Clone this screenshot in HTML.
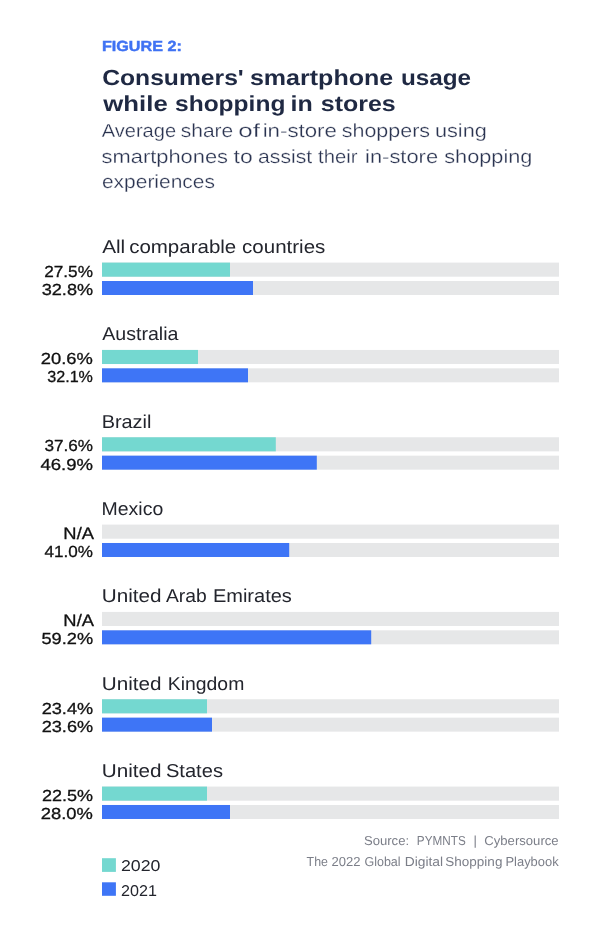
<!DOCTYPE html>
<html lang="en">
<head>
<meta charset="utf-8">
<title>Figure 2: Consumers' smartphone usage while shopping in stores</title>
<style>
html,body{margin:0;padding:0;background:#fff;}
body{width:615px;height:932px;position:relative;overflow:hidden;font-family:"Liberation Sans",sans-serif;text-rendering:geometricPrecision;}
header,main,footer,section,h1,h2,p,ul,li{display:block;position:static;margin:0;padding:0;font:inherit;list-style:none;height:0;}
.bars{position:absolute;left:0;top:0;display:block;}
.t{position:absolute;left:0;display:block;white-space:nowrap;line-height:1;margin:0;padding:0;transform-origin:0 0;}
#fig{top:40px;font-size:14.7px;font-weight:700;color:#3f72f3;transform:translateX(101.94px) scaleX(1.0995);-webkit-text-stroke:.45px #3f72f3;}
#t1a{top:67px;font-size:21.8px;font-weight:700;color:#1f2943;transform:translateX(102.22px) scaleX(1.1312);}
#t1b{top:67px;font-size:21.8px;font-weight:700;color:#1f2943;transform:translateX(249.93px) scaleX(1.1487);}
#t1c{top:67px;font-size:21.8px;font-weight:700;color:#1f2943;transform:translateX(400.90px) scaleX(1.1129);}
#t2a{top:93px;font-size:21.8px;font-weight:700;color:#1f2943;transform:translateX(103.29px) scaleX(1.1821);}
#t2b{top:93px;font-size:21.8px;font-weight:700;color:#1f2943;transform:translateX(175.02px) scaleX(1.1252);}
#t2c{top:93px;font-size:21.8px;font-weight:700;color:#1f2943;transform:translateX(290.51px) scaleX(1.1465);}
#t2d{top:93px;font-size:21.8px;font-weight:700;color:#1f2943;transform:translateX(320.78px) scaleX(1.1444);}
#s1a{top:123px;font-size:18.9px;font-weight:400;color:#2a3350;transform:translateX(101.71px) scaleX(1.0621);-webkit-text-stroke:.26px #fff;}
#s1b{top:123px;font-size:18.9px;font-weight:400;color:#2a3350;transform:translateX(180.80px) scaleX(1.1102);-webkit-text-stroke:.26px #fff;}
#s1c{top:123px;font-size:18.9px;font-weight:400;color:#2a3350;transform:translateX(238.37px) scaleX(1.3737);-webkit-text-stroke:.26px #fff;}
#s1d{top:123px;font-size:18.9px;font-weight:400;color:#2a3350;transform:translateX(262.64px) scaleX(1.1792);-webkit-text-stroke:.26px #fff;}
#s1e{top:123px;font-size:18.9px;font-weight:400;color:#2a3350;transform:translateX(341.72px) scaleX(1.1369);-webkit-text-stroke:.26px #fff;}
#s1f{top:123px;font-size:18.9px;font-weight:400;color:#2a3350;transform:translateX(434.96px) scaleX(1.1480);-webkit-text-stroke:.26px #fff;}
#s2a{top:149px;font-size:18.9px;font-weight:400;color:#2a3350;transform:translateX(101.60px) scaleX(1.1578);-webkit-text-stroke:.26px #fff;}
#s2b{top:149px;font-size:18.9px;font-weight:400;color:#2a3350;transform:translateX(233.52px) scaleX(1.2118);-webkit-text-stroke:.26px #fff;}
#s2c{top:149px;font-size:18.9px;font-weight:400;color:#2a3350;transform:translateX(258.04px) scaleX(1.1198);-webkit-text-stroke:.26px #fff;}
#s2d{top:149px;font-size:18.9px;font-weight:400;color:#2a3350;transform:translateX(318.10px) scaleX(1.0716);-webkit-text-stroke:.26px #fff;}
#s2e{top:149px;font-size:18.9px;font-weight:400;color:#2a3350;transform:translateX(365.04px) scaleX(1.1596);-webkit-text-stroke:.26px #fff;}
#s2f{top:149px;font-size:18.9px;font-weight:400;color:#2a3350;transform:translateX(444.21px) scaleX(1.1508);-webkit-text-stroke:.26px #fff;}
#s3a{top:174px;font-size:18.9px;font-weight:400;color:#2a3350;transform:translateX(101.95px) scaleX(1.1092);-webkit-text-stroke:.26px #fff;}
#g0a{top:238px;font-size:18.6px;font-weight:400;color:#23252d;transform:translateX(102.14px) scaleX(1.1161);}
#g0b{top:238px;font-size:18.6px;font-weight:400;color:#23252d;transform:translateX(129.13px) scaleX(1.1024);}
#g0c{top:238px;font-size:18.6px;font-weight:400;color:#23252d;transform:translateX(242.05px) scaleX(1.1036);}
#a0{top:265px;font-size:16.0px;font-weight:400;color:#111;transform:translateX(44.24px) scaleX(1.0730);-webkit-text-stroke:.3px #111;}
#b0{top:283px;font-size:16.0px;font-weight:400;color:#111;transform:translateX(41.70px) scaleX(1.1319);-webkit-text-stroke:.3px #111;}
#g1a{top:325px;font-size:18.6px;font-weight:400;color:#23252d;transform:translateX(102.22px) scaleX(1.0537);}
#a1{top:352px;font-size:16.0px;font-weight:400;color:#111;transform:translateX(40.82px) scaleX(1.1478);-webkit-text-stroke:.3px #111;}
#b1{top:370px;font-size:16.0px;font-weight:400;color:#111;transform:translateX(47.26px) scaleX(1.0068);-webkit-text-stroke:.3px #111;}
#g2a{top:413px;font-size:18.6px;font-weight:400;color:#23252d;transform:translateX(101.63px) scaleX(1.0706);}
#a2{top:439px;font-size:16.0px;font-weight:400;color:#111;transform:translateX(44.41px) scaleX(1.0698);-webkit-text-stroke:.3px #111;}
#b2{top:458px;font-size:16.0px;font-weight:400;color:#111;transform:translateX(40.45px) scaleX(1.1583);-webkit-text-stroke:.3px #111;}
#g3a{top:500px;font-size:18.6px;font-weight:400;color:#23252d;transform:translateX(101.54px) scaleX(1.0478);}
#a3{top:526px;font-size:16.6px;font-weight:400;color:#111;transform:translateX(63.37px) scaleX(1.1066);-webkit-text-stroke:.3px #111;}
#b3{top:545px;font-size:16.0px;font-weight:400;color:#111;transform:translateX(44.54px) scaleX(1.0660);-webkit-text-stroke:.3px #111;}
#g4a{top:587px;font-size:18.6px;font-weight:400;color:#23252d;transform:translateX(101.76px) scaleX(1.1116);}
#g4b{top:587px;font-size:18.6px;font-weight:400;color:#23252d;transform:translateX(165.93px) scaleX(1.0369);}
#g4c{top:587px;font-size:18.6px;font-weight:400;color:#23252d;transform:translateX(212.88px) scaleX(1.0764);}
#a4{top:613px;font-size:16.6px;font-weight:400;color:#111;transform:translateX(63.37px) scaleX(1.1066);-webkit-text-stroke:.3px #111;}
#b4{top:632px;font-size:16.0px;font-weight:400;color:#111;transform:translateX(41.47px) scaleX(1.1372);-webkit-text-stroke:.3px #111;}
#g5a{top:675px;font-size:18.6px;font-weight:400;color:#23252d;transform:translateX(101.76px) scaleX(1.1116);}
#g5b{top:675px;font-size:18.6px;font-weight:400;color:#23252d;transform:translateX(167.81px) scaleX(1.0422);}
#a5{top:702px;font-size:16.0px;font-weight:400;color:#111;transform:translateX(41.69px) scaleX(1.1324);-webkit-text-stroke:.3px #111;}
#b5{top:720px;font-size:16.0px;font-weight:400;color:#111;transform:translateX(41.69px) scaleX(1.1324);-webkit-text-stroke:.3px #111;}
#g6a{top:762px;font-size:18.6px;font-weight:400;color:#23252d;transform:translateX(101.76px) scaleX(1.1116);}
#g6b{top:762px;font-size:18.6px;font-weight:400;color:#23252d;transform:translateX(165.90px) scaleX(1.0825);}
#a6{top:789px;font-size:16.0px;font-weight:400;color:#111;transform:translateX(41.95px) scaleX(1.1248);-webkit-text-stroke:.3px #111;}
#b6{top:807px;font-size:16.0px;font-weight:400;color:#111;transform:translateX(40.82px) scaleX(1.1478);-webkit-text-stroke:.3px #111;}
#src1{top:834px;font-size:13.0px;font-weight:400;color:#7b7e88;transform:translateX(363.95px) scaleX(1.0078);}
#src2{top:834px;font-size:13.0px;font-weight:400;color:#7b7e88;transform:translateX(416.87px) scaleX(0.9013);}
#src3{top:834px;font-size:13.0px;font-weight:400;color:#7b7e88;transform:translateX(473.48px) scaleX(1.0000);}
#src4{top:834px;font-size:13.0px;font-weight:400;color:#7b7e88;transform:translateX(484.29px) scaleX(1.0086);}
#src5a{top:855px;font-size:13.0px;font-weight:400;color:#7b7e88;transform:translateX(306.58px) scaleX(0.9526);}
#src5b{top:855px;font-size:13.0px;font-weight:400;color:#7b7e88;transform:translateX(331.45px) scaleX(1.0015);}
#src5c{top:855px;font-size:13.0px;font-weight:400;color:#7b7e88;transform:translateX(364.46px) scaleX(0.9612);}
#src5d{top:855px;font-size:13.0px;font-weight:400;color:#7b7e88;transform:translateX(404.72px) scaleX(1.0615);}
#src5e{top:855px;font-size:13.0px;font-weight:400;color:#7b7e88;transform:translateX(445.34px) scaleX(1.0384);}
#src5f{top:855px;font-size:13.0px;font-weight:400;color:#7b7e88;transform:translateX(505.49px) scaleX(0.9937);}
#l20{top:859px;font-size:15.6px;font-weight:400;color:#23252d;transform:translateX(120.95px) scaleX(1.1383);}
#l21{top:884px;font-size:15.6px;font-weight:400;color:#23252d;transform:translateX(121.01px) scaleX(1.0342);}
</style>
</head>
<body>
<header>
<span class="t" id="fig">FIGURE 2:</span>
<h1><span class="t" id="t1a">Consumers'</span> <span class="t" id="t1b">smartphone</span> <span class="t" id="t1c">usage</span>
<span class="t" id="t2a">while</span> <span class="t" id="t2b">shopping</span> <span class="t" id="t2c">in</span> <span class="t" id="t2d">stores</span></h1>
<p><span class="t" id="s1a">Average</span> <span class="t" id="s1b">share</span> <span class="t" id="s1c">of</span> <span class="t" id="s1d">in-store</span> <span class="t" id="s1e">shoppers</span> <span class="t" id="s1f">using</span>
<span class="t" id="s2a">smartphones</span> <span class="t" id="s2b">to</span> <span class="t" id="s2c">assist</span> <span class="t" id="s2d">their</span> <span class="t" id="s2e">in-store</span> <span class="t" id="s2f">shopping</span>
<span class="t" id="s3a">experiences</span></p>
</header>
<main>
<svg class="bars" width="615" height="932" viewBox="0 0 615 932" role="img" aria-label="Bar chart">
<rect x="102" y="262.60" width="457" height="14.1" fill="#e6e7e8"/>
<rect x="102" y="262.60" width="128" height="14.1" fill="#74d8d0"/>
<rect x="102" y="281.00" width="457" height="14" fill="#e6e7e8"/>
<rect x="102" y="281.00" width="151" height="14" fill="#3e75f6"/>
<rect x="102" y="349.93" width="457" height="14.1" fill="#e6e7e8"/>
<rect x="102" y="349.93" width="96" height="14.1" fill="#74d8d0"/>
<rect x="102" y="368.33" width="457" height="14" fill="#e6e7e8"/>
<rect x="102" y="368.33" width="146" height="14" fill="#3e75f6"/>
<rect x="102" y="437.26" width="457" height="14.1" fill="#e6e7e8"/>
<rect x="102" y="437.26" width="173.8" height="14.1" fill="#74d8d0"/>
<rect x="102" y="455.66" width="457" height="14" fill="#e6e7e8"/>
<rect x="102" y="455.66" width="214.8" height="14" fill="#3e75f6"/>
<rect x="102" y="524.59" width="457" height="14.1" fill="#e6e7e8"/>
<rect x="102" y="542.99" width="457" height="14" fill="#e6e7e8"/>
<rect x="102" y="542.99" width="187.2" height="14" fill="#3e75f6"/>
<rect x="102" y="611.92" width="457" height="14.1" fill="#e6e7e8"/>
<rect x="102" y="630.32" width="457" height="14" fill="#e6e7e8"/>
<rect x="102" y="630.32" width="269.2" height="14" fill="#3e75f6"/>
<rect x="102" y="699.25" width="457" height="14.1" fill="#e6e7e8"/>
<rect x="102" y="699.25" width="105" height="14.1" fill="#74d8d0"/>
<rect x="102" y="717.65" width="457" height="14" fill="#e6e7e8"/>
<rect x="102" y="717.65" width="110" height="14" fill="#3e75f6"/>
<rect x="102" y="786.58" width="457" height="14.1" fill="#e6e7e8"/>
<rect x="102" y="786.58" width="105" height="14.1" fill="#74d8d0"/>
<rect x="102" y="804.98" width="457" height="14" fill="#e6e7e8"/>
<rect x="102" y="804.98" width="128" height="14" fill="#3e75f6"/>
<rect x="102" y="858.2" width="13.9" height="13.7" fill="#74d8d0"/>
<rect x="102" y="882.3" width="13.9" height="13.5" fill="#3e75f6"/>
</svg>
<section><h2><span class="t" id="g0a">All</span> <span class="t" id="g0b">comparable</span> <span class="t" id="g0c">countries</span></h2> <span class="t" id="a0">27.5%</span> <span class="t" id="b0">32.8%</span></section>
<section><h2><span class="t" id="g1a">Australia</span></h2> <span class="t" id="a1">20.6%</span> <span class="t" id="b1">32.1%</span></section>
<section><h2><span class="t" id="g2a">Brazil</span></h2> <span class="t" id="a2">37.6%</span> <span class="t" id="b2">46.9%</span></section>
<section><h2><span class="t" id="g3a">Mexico</span></h2> <span class="t" id="a3">N/A</span> <span class="t" id="b3">41.0%</span></section>
<section><h2><span class="t" id="g4a">United</span> <span class="t" id="g4b">Arab</span> <span class="t" id="g4c">Emirates</span></h2> <span class="t" id="a4">N/A</span> <span class="t" id="b4">59.2%</span></section>
<section><h2><span class="t" id="g5a">United</span> <span class="t" id="g5b">Kingdom</span></h2> <span class="t" id="a5">23.4%</span> <span class="t" id="b5">23.6%</span></section>
<section><h2><span class="t" id="g6a">United</span> <span class="t" id="g6b">States</span></h2> <span class="t" id="a6">22.5%</span> <span class="t" id="b6">28.0%</span></section>
</main>
<footer>
<ul><li><span class="t" id="l20">2020</span></li><li><span class="t" id="l21">2021</span></li></ul>
<p><span class="t" id="src1">Source:</span> <span class="t" id="src2">PYMNTS</span> <span class="t" id="src3">|</span> <span class="t" id="src4">Cybersource</span>
<span class="t" id="src5a">The</span> <span class="t" id="src5b">2022</span> <span class="t" id="src5c">Global</span> <span class="t" id="src5d">Digital</span> <span class="t" id="src5e">Shopping</span> <span class="t" id="src5f">Playbook</span></p>
</footer>
</body>
</html>
